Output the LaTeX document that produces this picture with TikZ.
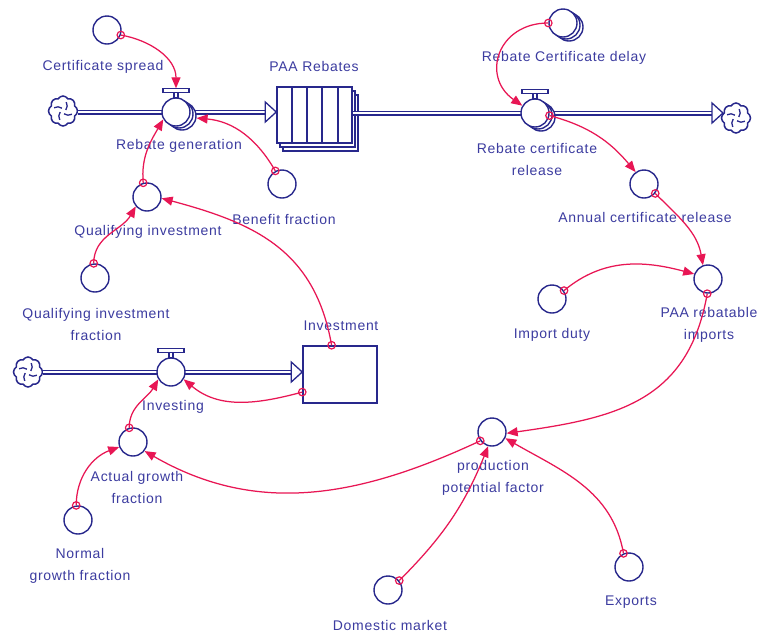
\documentclass[tikz,border=0pt]{standalone}
\usepackage{fontspec}
\setmainfont{Liberation Sans}
\usetikzlibrary{arrows.meta,shapes.symbols}
\definecolor{navy}{RGB}{40,40,140}
\definecolor{txt}{RGB}{60,60,160}
\definecolor{lnk}{RGB}{232,22,84}
\tikzset{
 aux/.style={circle, draw=navy, line width=1.4pt, fill=white, minimum size=28pt, inner sep=0pt},
 lbl/.style={text=txt, font=\addfontfeature{LetterSpace=5}\fontsize{14}{22}\selectfont, inner sep=0pt},
 conn/.style={draw=lnk, line width=1.25pt, -{Triangle[length=11pt,width=9pt]}},
 tailc/.style={circle, draw=lnk, line width=1.2pt, minimum size=7.5pt, inner sep=0pt},
 pipe/.style={draw=navy, line width=1.2pt, double=white, double distance=2.6pt},
 cloudy/.style={cloud, cloud puffs=8, cloud puff arc=120, aspect=1, draw=navy, line width=1.5pt, fill=white, minimum width=29pt, minimum height=30pt, inner sep=0pt},
 stockbox/.style={draw=navy, line width=1.5pt, fill=white, rectangle, inner sep=0pt},
 tipbox/.style={draw=navy, line width=1.3pt, fill=white},
 swirl/.style={draw=navy, line width=1.3pt},
}
\newcommand\mkvalve[2]{%
 \node[aux] (#1) at (#2) {};
 \draw[navy,line width=1.2pt,fill=white] ([xshift=-2pt]#1.north) rectangle ([xshift=2pt,yshift=5pt]#1.north);
 \draw[navy,line width=1.2pt,fill=white] ([xshift=-13pt,yshift=5pt]#1.north) rectangle ([xshift=13pt,yshift=9pt]#1.north);
}
\newcommand\mkswirl[1]{%
 \foreach \a in {20,110,200,290} {\draw[swirl] ([shift={(\a:3pt)}]#1.center) to[bend right=30] ([shift={(\a+50:9.5pt)}]#1.center);}
}
\begin{document}
\begin{tikzpicture}[x=1pt,y=1pt]
\useasboundingbox (0,0) rectangle (758,-633);
\fill[white] (0,0) rectangle (758,-633);
% clouds
\node[cloudy] (cA) at (63,-111) {};
\node[cloudy] (cB) at (736,-118) {};
\node[cloudy] (cC) at (28,-372) {};
\mkswirl{cA}\mkswirl{cB}\mkswirl{cC}
% stocks
\node[stockbox, minimum width=75pt, minimum height=56pt] (paaB2) at (320.5,-123) {};
\node[stockbox, minimum width=75pt, minimum height=56pt] (paaB1) at (317.5,-119) {};
\node[stockbox, minimum width=75pt, minimum height=56pt] (paa) at (314.5,-115) {};
\foreach \x in {292,307,322,338} \draw[navy,line width=1.5pt] (\x,-87) -- (\x,-143);
\node[stockbox, minimum width=74pt, minimum height=57pt] (inv) at (340,-374.5) {};
% valve centres
\coordinate (rgc) at (176,-112);
\coordinate (rcrc) at (535,-113);
\coordinate (ivgc) at (171,-372);
% pipes
\coordinate (tA) at (paa.west |- rgc);
\draw[pipe] (cA.east |- rgc) -- ([xshift=-11pt]tA);
\draw[tipbox] (tA) -- ++(-11,10) -- ++(0,-20) -- cycle;
\coordinate (sB) at (paa.east |- rcrc);
\coordinate (tB) at (723,-113);
\draw[pipe] (sB) -- ([xshift=-11pt]tB);
\draw[tipbox] (tB) -- ++(-11,10) -- ++(0,-20) -- cycle;
\coordinate (tC) at (inv.west |- ivgc);
\draw[pipe] (cC.east) -- ([xshift=-11pt]tC);
\draw[tipbox] (tC) -- ++(-11,10) -- ++(0,-20) -- cycle;
% valves
\node[aux] (rgB2) at (182,-116) {};
\node[aux] (rgB1) at (179,-114) {};
\mkvalve{rg}{rgc}
\node[aux] (rcrB2) at (541,-117) {};
\node[aux] (rcrB1) at (538,-115) {};
\mkvalve{rcr}{rcrc}
\mkvalve{ivg}{ivgc}
\coordinate (rgtop) at ([yshift=9pt]rg.north);
% auxiliaries
\node[aux] (cs) at (107,-30) {};
\node[aux] (bf) at (282,-184) {};
\node[aux] (qi) at (147,-197) {};
\node[aux] (qif) at (95,-278) {};
\node[aux] (agf) at (133,-442) {};
\node[aux] (ngf) at (78,-520) {};
\node[aux] (rcdB2) at (569,-27) {};
\node[aux] (rcdB1) at (566,-25) {};
\node[aux] (rcd) at (563,-23) {};
\node[aux] (acr) at (644,-184) {};
\node[aux] (pri) at (708,-279) {};
\node[aux] (idt) at (552,-299) {};
\node[aux] (ppf) at (492,-432) {};
\node[aux] (expo) at (629,-567) {};
\node[aux] (dm) at (388,-590) {};
% labels
\node[lbl] (lcs) at (103,-67) {Certificate spread};
\node[lbl] (lrg) at (179,-146) {Rebate generation};
\node[lbl] (lpaa) at (314,-66) {PAA Rebates};
\node[lbl] (lbf) at (284,-219) {Benefit fraction};
\node[lbl] (lqi) at (148,-232) {Qualifying investment};
\node[lbl, align=center] (lqif) at (96,-324) {Qualifying investment\\fraction};
\node[lbl] (linv) at (341,-326) {Investment};
\node[lbl] (livg) at (173,-407) {Investing};
\node[lbl, align=center] (lagf) at (137,-487.5) {Actual growth\\fraction};
\node[lbl, align=center] (lngf) at (80,-565.5) {Normal\\growth fraction};
\node[lbl] (lrcd) at (564,-58) {Rebate Certificate delay};
\node[lbl, align=center] (lrcr) at (537,-159) {Rebate certificate\\release};
\node[lbl] (lacr) at (645,-217) {Annual certificate release};
\node[lbl, align=center] (lpri) at (709,-325) {PAA rebatable\\imports};
\node[lbl] (lidt) at (552,-335) {Import duty};
\node[lbl, align=center] (lppf) at (493,-478) {production\\potential factor};
\node[lbl] (lexp) at (631,-602) {Exports};
\node[lbl] (ldm) at (390,-625) {Domestic market};
% connectors
\draw[conn] (cs.-20) node[tailc]{} to[out=-10,in=90] (rgtop);
\draw[conn] (qi.105) node[tailc]{} to[out=95,in=240] (rg.210);
\draw[conn] (bf.117) node[tailc]{} to[out=120,in=-5] (rgB2.-8);
\draw[conn] (inv.106) node[tailc]{} to[out=100,in=-15,looseness=1.1] (qi.-5);
\draw[conn] (qif.95) node[tailc]{} to[out=90,in=240] (qi.220);
\draw[conn] (agf.105) node[tailc]{} to[out=90,in=240] (ivg.210);
\draw[conn] (inv.205) node[tailc]{} to[out=195,in=-40] (ivg.-30);
\draw[conn] (ngf.97) node[tailc]{} to[out=90,in=200] (agf.200);
\draw[conn] (ppf.217) node[tailc]{} to[out=205,in=-30] (agf.-38);
\draw[conn] (dm.40) node[tailc]{} to[out=45,in=-112] (ppf.-105);
\draw[conn] (expo.112) node[tailc]{} to[out=100,in=-30] (ppf.-25);
\draw[conn] (pri.-93) node[tailc]{} to[out=-100,in=8,looseness=1.15] (ppf.-5);
\draw[conn] (idt.35) node[tailc]{} to[out=40,in=165] (pri.160);
\draw[conn] (acr.-40) node[tailc]{} to[out=-45,in=100] (pri.110);
\draw[conn] (rcr.-10) node[tailc]{} to[out=-15,in=130] (acr.125);
\draw[conn] (rcd.180) node[tailc]{} to[out=180,in=145,looseness=1.5] (rcr.150);
\end{tikzpicture}
\end{document}
